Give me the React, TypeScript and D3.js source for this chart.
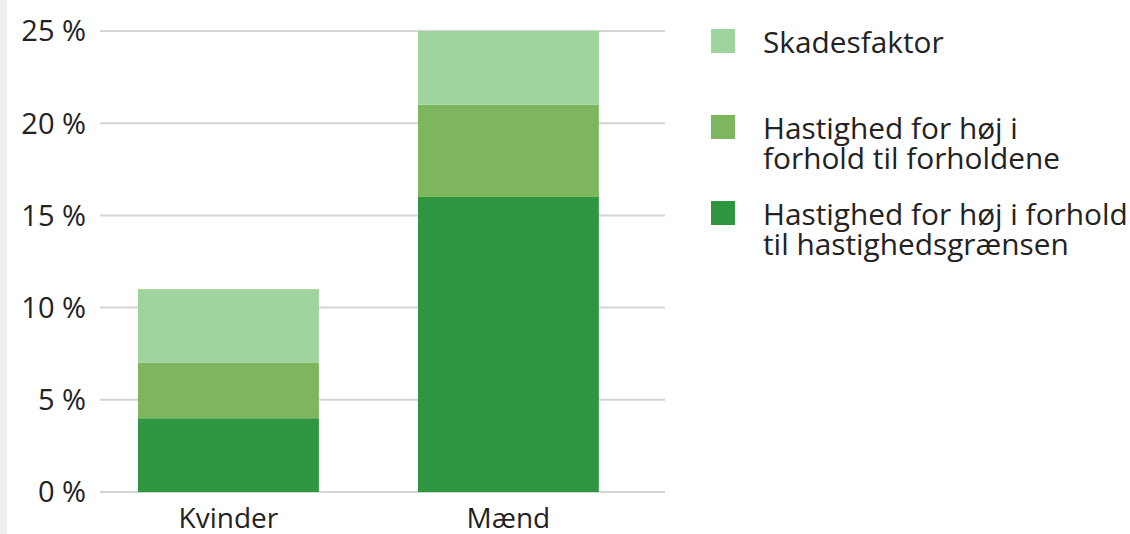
import React from "react";
import * as d3 from "d3";

const categories = ["Kvinder", "Mænd"];
const seriesNames = [
  "Hastighed for høj i forhold til hastighedsgrænsen",
  "Hastighed for høj i forhold til forholdene",
  "Skadesfaktor",
];
const speedLimitValues = [4, 16];
const conditionsValues = [3, 5];
const damageValues = [4, 4];
const yTicks = [0, 5, 10, 15, 20, 25];
const colors = ["#2e9641", "#7db65e", "#9fd49c"];

const legendItems = [
  { lines: ["Skadesfaktor"], color: colors[2] },
  { lines: ["Hastighed for høj i", "forhold til forholdene"], color: colors[1] },
  { lines: ["Hastighed for høj i forhold", "til hastighedsgrænsen"], color: colors[0] },
];

const FONT = "'Open Sans', Lato, sans-serif";

export default function App() {
  const W = 1130;
  const H = 534;
  const y = d3.scaleLinear().domain([0, 25]).range([492, 31]);
  const x = d3
    .scaleBand()
    .domain(categories)
    .range([100, 665])
    .paddingInner(0.354)
    .paddingOuter(0.186)
    .align(0.365);

  const rows = categories.map((c, i) => ({
    cat: c,
    s0: speedLimitValues[i],
    s1: conditionsValues[i],
    s2: damageValues[i],
  }));
  const stack = d3.stack<any>().keys(["s0", "s1", "s2"])(rows);

  const legendY = [53, 139, 225];

  return (
    <svg width={W} height={H} style={{ position: "absolute", left: 0, top: 0, background: "#fff" }}>
      <rect x={0} y={0} width={W} height={H} fill="#fff" />
      <rect x={0} y={0} width={7} height={H} fill="#efefef" />
      {yTicks.map((t) => (
        <g key={t}>
          <line x1={100} x2={665} y1={y(t)} y2={y(t)} stroke="#d4d4d4" strokeWidth={2} />
          <text x={86} y={y(t)} dy="0.36em" textAnchor="end" fontFamily={FONT} fontSize={29} fill="#222">
            {t} %
          </text>
        </g>
      ))}
      {stack.map((layer, li) =>
        layer.map((d, i) => (
          <rect
            key={li + "-" + i}
            x={x(categories[i])}
            width={x.bandwidth()}
            y={y(d[1])}
            height={y(d[0]) - y(d[1])}
            fill={colors[li]}
          />
        ))
      )}
      {categories.map((c) => (
        <text key={c} x={(x(c) as number) + x.bandwidth() / 2} y={528} textAnchor="middle" fontFamily={FONT} fontSize={28} fill="#222">
          {c}
        </text>
      ))}
      {legendItems.map((it, i) => (
        <g key={i}>
          <rect x={711} y={legendY[i] - 24} width={24} height={24} fill={it.color} />
          {it.lines.map((ln, j) => (
            <text key={j} x={763} y={legendY[i] + j * 30} fontFamily={FONT} fontSize={29.8} fill="#222">
              {ln}
            </text>
          ))}
        </g>
      ))}
    </svg>
  );
}
